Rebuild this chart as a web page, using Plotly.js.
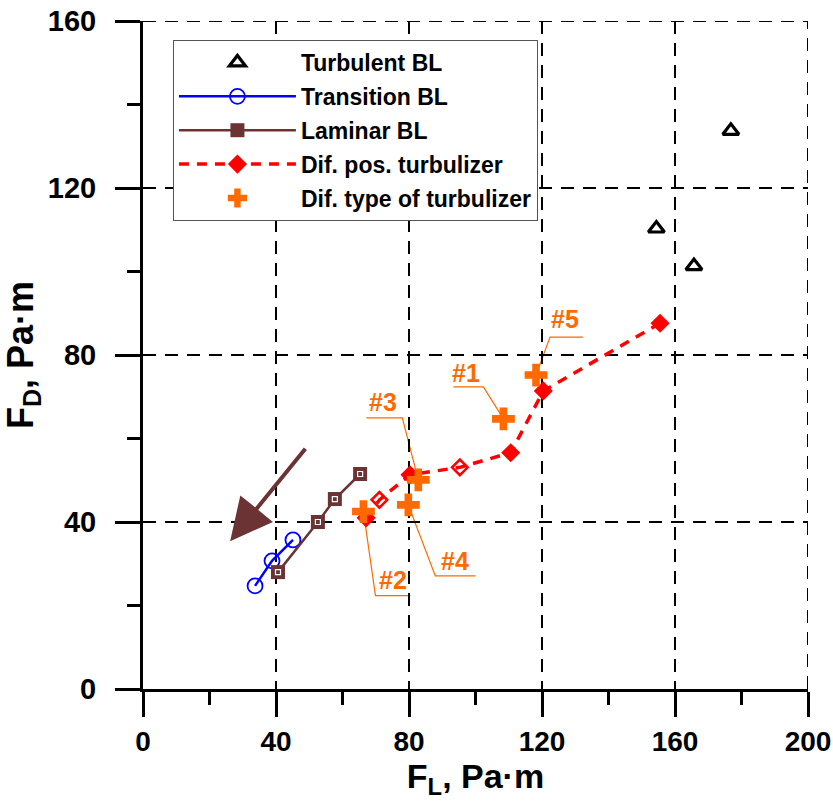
<!DOCTYPE html>
<html>
<head>
<meta charset="utf-8">
<script src="https://cdn.plot.ly/plotly-3.0.1.min.js"></script>
<style>
  html, body { margin: 0; padding: 0; background: #fff; }
  #chart { width: 833px; height: 805px; }
</style>
</head>
<body>
<div id="chart"></div>
<script>
// Lift force F_L vs drag force F_D (Pa·m) for the boundary-layer regimes
const turbX = [154.4, 165.7, 176.8];
const turbY = [110.3, 101.3, 133.7];

const transX = [33.7, 38.8, 45.1];
const transY = [24.7, 30.7, 35.7];

const lamX = [40.6, 52.6, 57.7, 65.3];
const lamY = [28.0, 40.0, 45.5, 51.5];

const posX = [67.1, 71.1, 80.3, 95.3, 110.6, 120.4, 155.5];
const posY = [41.0, 45.3, 51.3, 53.1, 56.6, 71.4, 87.6];

const typeLabels = ['#1', '#2', '#3', '#4', '#5'];
const typeX = [108.4, 66.3, 82.8, 79.8, 118.2];
const typeY = [64.7, 42.5, 50.1, 44.1, 75.2];

const seriesNames = ['Turbulent BL', 'Transition BL', 'Laminar BL',
                     'Dif. pos. turbulizer', 'Dif. type of turbulizer'];

const xTicks = [0, 40, 80, 120, 160, 200];
const yTicks = [0, 40, 80, 120, 160];

const FONT = '"Liberation Sans", Arial, sans-serif';
const BROWN = '#6b3333';
const ORANGE = '#ff6a00';

const traces = [
  {
    x: turbX, y: turbY, name: seriesNames[0], type: 'scatter', mode: 'markers',
    marker: { symbol: 'triangle-up-open', size: 14, color: '#000', line: { width: 3.2, color: '#000' } },
    legendgroup: 'a'
  },
  {
    x: transX, y: transY, name: seriesNames[1], type: 'scatter', mode: 'lines+markers',
    line: { color: '#0000ff', width: 2.5 },
    marker: { symbol: 'circle-open', size: 15, color: '#0000ff', line: { width: 1.8, color: '#0000ff' } },
    legendgroup: 'b'
  },
  {
    x: lamX, y: lamY, name: seriesNames[2], type: 'scatter', mode: 'lines+markers',
    line: { color: BROWN, width: 2.5 },
    marker: { symbol: 'square', size: 14, color: BROWN },
    legendgroup: 'c'
  },
  {
    // small white inner mark on the laminar squares
    x: lamX, y: lamY, type: 'scatter', mode: 'markers', showlegend: false, hoverinfo: 'skip',
    marker: { symbol: 'square-open', size: 5, color: '#fff', line: { width: 1.2, color: '#fff' } },
    legendgroup: 'c'
  },
  {
    x: posX, y: posY, name: seriesNames[3], type: 'scatter', mode: 'lines+markers',
    line: { color: '#ff0000', width: 3.5, dash: '10px,8px' },
    marker: {
      symbol: ['diamond', 'diamond-open', 'diamond', 'diamond-open', 'diamond', 'diamond', 'diamond'],
      size: 12, color: '#ff0000', line: { width: 2.5, color: '#ff0000' }
    },
    legendgroup: 'd'
  },
  {
    x: typeX, y: typeY, name: seriesNames[4], type: 'scatter', mode: 'markers',
    marker: { symbol: 'cross', size: 19, color: ORANGE, line: { width: 0 } },
    text: typeLabels, hoverinfo: 'x+y+text',
    legendgroup: 'e'
  }
];

// label placement relative to each orange point (pixels, y up):
// leader end, underline end, text centre
const labelGeom = {
  '#1': { lead: [-20, 32], under: [-50, 32], text: [-37, 46] },
  '#2': { lead: [12, -84], under: [47, -84], text: [30, -68] },
  '#3': { lead: [-16, 62], under: [-52, 62], text: [-35, 78] },
  '#4': { lead: [27, -71], under: [67, -71], text: [47, -56] },
  '#5': { lead: [14, 38], under: [47, 38], text: [29, 56] }
};

const shapes = [];
const annotations = [];
typeLabels.forEach((lab, i) => {
  const g = labelGeom[lab];
  shapes.push({
    type: 'path', xref: 'x', yref: 'y', layer: 'below',
    xsizemode: 'pixel', ysizemode: 'pixel', xanchor: typeX[i], yanchor: typeY[i],
    path: `M0,0 L${g.lead[0]},${g.lead[1]} L${g.under[0]},${g.under[1]}`,
    line: { color: ORANGE, width: 1.2 }
  });
  annotations.push({
    x: typeX[i], y: typeY[i], xref: 'x', yref: 'y', showarrow: false,
    xshift: g.text[0], yshift: g.text[1], text: lab,
    font: { family: FONT, size: 25, color: ORANGE, weight: 'bold' }
  });
});

// dashed grid lines along the top and right edges of the frame
const xMax = xTicks[xTicks.length - 1];
const yMax = yTicks[yTicks.length - 1];
shapes.push({
  type: 'line', xref: 'x', yref: 'y', layer: 'below',
  x0: xTicks[0], x1: xMax, y0: yMax, y1: yMax,
  line: { color: '#000', width: 2, dash: '13px,9px' }
});
shapes.push({
  type: 'line', xref: 'x', yref: 'y', layer: 'below',
  x0: xMax, x1: xMax, y0: yTicks[0], y1: yMax,
  line: { color: '#000', width: 2, dash: '13px,9px' }
});

// direction arrow
annotations.push({
  x: 26.2, y: 35.4, ax: 49.2, ay: 57.9, xref: 'x', yref: 'y', axref: 'x', ayref: 'y',
  text: '', showarrow: true, arrowhead: 2, arrowsize: 2.1, arrowwidth: 4, arrowcolor: BROWN
});

const axisCommon = {
  showline: true, linecolor: '#000', linewidth: 3,
  ticks: 'outside', ticklen: 25, tickwidth: 3, tickcolor: '#000',
  showgrid: true, gridcolor: '#000', gridwidth: 2, griddash: '13px,9px',
  zeroline: false, mirror: false,
  minor: { ticks: 'outside', ticklen: 13, tickwidth: 3, tickcolor: '#000', dtick: 20, showgrid: false }
};

const layout = {
  width: 833, height: 805,
  margin: { l: 143, r: 25, t: 21, b: 116 },
  paper_bgcolor: '#fff', plot_bgcolor: '#fff',
  font: { family: FONT, color: '#000' },
  showlegend: true,
  xaxis: Object.assign({}, axisCommon, {
    range: [0, 200], tickvals: xTicks, ticktext: xTicks.map(String),
    tickfont: { family: FONT, size: 28, color: '#000', weight: 'bold' },
    ticklabelstandoff: 0,
    title: { text: 'F<sub>L</sub>, Pa·m', font: { family: FONT, size: 34, weight: 'bold' }, standoff: 4 }
  }),
  yaxis: Object.assign({}, axisCommon, {
    range: [0, 160], tickvals: yTicks, ticktext: yTicks.map(String),
    tickfont: { family: FONT, size: 29, color: '#000', weight: 'bold' },
    ticklabelstandoff: 13,
    title: { text: 'F<sub>D</sub>, Pa·m', font: { family: FONT, size: 36, weight: 'bold' }, standoff: 8 }
  }),
  legend: {
    x: 0.045, y: 0.9716, xanchor: 'left', yanchor: 'top',
    bgcolor: '#fff', bordercolor: '#555', borderwidth: 1,
    font: { family: FONT, size: 23, color: '#000', weight: 'bold' },
    traceorder: 'grouped', tracegroupgap: 1, itemwidth: 117,
    itemsizing: 'trace'
  },
  shapes: shapes,
  annotations: annotations
};

Plotly.newPlot('chart', traces, layout, { displayModeBar: false, staticPlot: true });
</script>
</body>
</html>
